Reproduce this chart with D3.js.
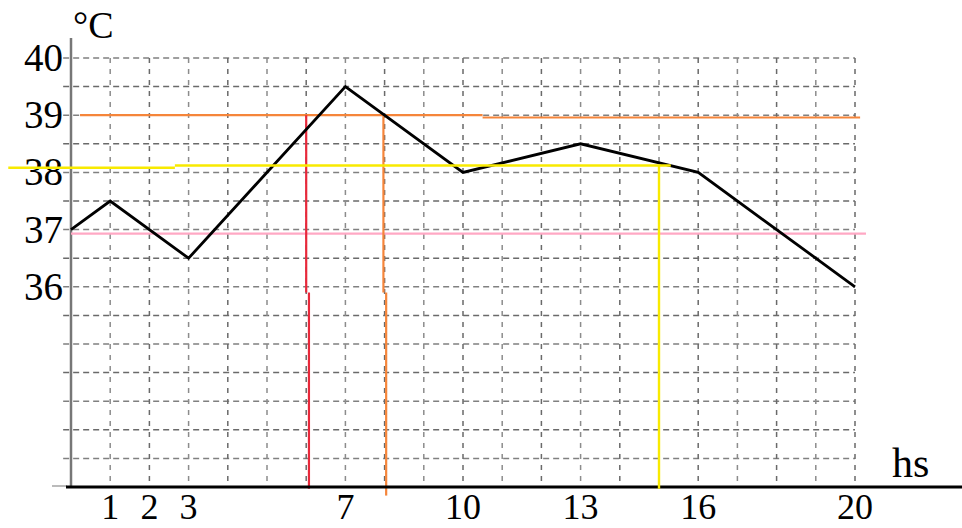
<!DOCTYPE html>
<html>
<head>
<meta charset="utf-8">
<script src="https://cdn.jsdelivr.net/npm/d3@7"></script>
<style>
  html, body { margin: 0; padding: 0; background: #fff; }
  svg { display: block; }
  text { font-family: "Liberation Serif", "DejaVu Serif", serif; fill: #000; }
</style>
</head>
<body>
<svg id="chart" width="962" height="528"></svg>
<script>
// ---- data ----
const hours = [0, 1, 3, 7, 10, 13, 16, 20];
const temps = [37, 37.5, 36.5, 39.5, 38, 38.5, 38, 36];
const xTickLabels = [1, 2, 3, 7, 10, 13, 16, 20];
const yTickLabels = [40, 39, 38, 37, 36];
const xGridValues = d3.range(1, 21);
const yGridValues = d3.range(33, 40.01, 0.5);
// reference lines: [x1, y1, x2, y2] in data units
const orangeH = [[0.23, 39, 10.5, 39], [10.5, 38.96, 20.13, 38.96]];
const orangeV = [[7.97, 39, 7.97, 35.9], [8.04, 35.9, 8.04, 32.35]];
const redV = [[6.0, 39, 6.0, 35.9], [6.07, 35.9, 6.07, 32.47]];
const yellowH = [[-1.6, 38.08, 2.65, 38.08], [2.65, 38.12, 15.3, 38.12]];
const yellowV = [[15.0, 38.12, 15.0, 32.47]];
const pinkH = [[0, 36.93, 20.28, 36.93]];

const svg = d3.select("#chart");
const x = d3.scaleLinear().domain([0, 20]).range([71, 855]);
const y = d3.scaleLinear().domain([32.5, 40]).range([487, 58]);

// grid
const grid = svg.append("g");
grid.selectAll("line.h").data(yGridValues).join("line")
  .attr("x1", x(-0.2)).attr("x2", x(20))
  .attr("y1", d => y(d)).attr("y2", d => y(d))
  .attr("stroke", (d, i) => i % 2 === 0 ? "#808080" : "#6a6a6a")
  .attr("stroke-width", 1.5)
  .attr("stroke-dasharray", "6,4");
grid.selectAll("line.v").data(xGridValues).join("line")
  .attr("x1", d => x(d)).attr("x2", d => x(d))
  .attr("y1", y(40)).attr("y2", y(32.5))
  .attr("stroke", (d, i) => i % 2 === 0 ? "#8c8c8c" : "#6a6a6a")
  .attr("stroke-width", 1.5)
  .attr("stroke-dasharray", "5,6");

// y axis
svg.append("line")
  .attr("x1", x(0)).attr("x2", x(0))
  .attr("y1", 38).attr("y2", y(32.5))
  .attr("stroke", "#777").attr("stroke-width", 2.5);
// left stub of x axis
svg.append("line")
  .attr("x1", 52).attr("x2", 67)
  .attr("y1", y(32.5) - 1).attr("y2", y(32.5) - 1)
  .attr("stroke", "#bbb").attr("stroke-width", 2);

// reference lines
function segs(data, color, w) {
  svg.append("g").selectAll("line").data(data).join("line")
    .attr("x1", d => x(d[0])).attr("y1", d => y(d[1]))
    .attr("x2", d => x(d[2])).attr("y2", d => y(d[3]))
    .attr("stroke", color).attr("stroke-width", w);
}
segs(pinkH, "#ffa8c4", 2.2);
segs(orangeH, "#f5853a", 2.2);
segs(redV, "#e8283a", 2.2);
segs(orangeV, "#f5853a", 2.2);

// data line
svg.append("path")
  .datum(hours.map((h, i) => [h, temps[i]]))
  .attr("d", d3.line().x(d => x(d[0])).y(d => y(d[1])))
  .attr("fill", "none").attr("stroke", "#000").attr("stroke-width", 2.8)
  .attr("stroke-linejoin", "miter");

// x axis
svg.append("line")
  .attr("x1", 66).attr("x2", 962)
  .attr("y1", y(32.5)).attr("y2", y(32.5))
  .attr("stroke", "#000").attr("stroke-width", 3);

// y labels
svg.append("g").selectAll("text").data(yTickLabels).join("text")
  .attr("x", 63).attr("y", d => y(d) + 13)
  .attr("text-anchor", "end")
  .attr("font-size", 39)
  .text(d => d);

segs(yellowH, "#f8ea00", 2.4);
segs(yellowV, "#f8ea00", 2.4);

// x labels
svg.append("g").selectAll("text").data(xTickLabels).join("text")
  .attr("x", d => x(d)).attr("y", 519)
  .attr("text-anchor", "middle")
  .attr("font-size", 36)
  .text(d => d);

// unit labels
svg.append("text").attr("x", 73).attr("y", 38).attr("font-size", 38).text("°C");
svg.append("text").attr("x", 892).attr("y", 477).attr("font-size", 42).text("hs");
</script>
</body>
</html>
